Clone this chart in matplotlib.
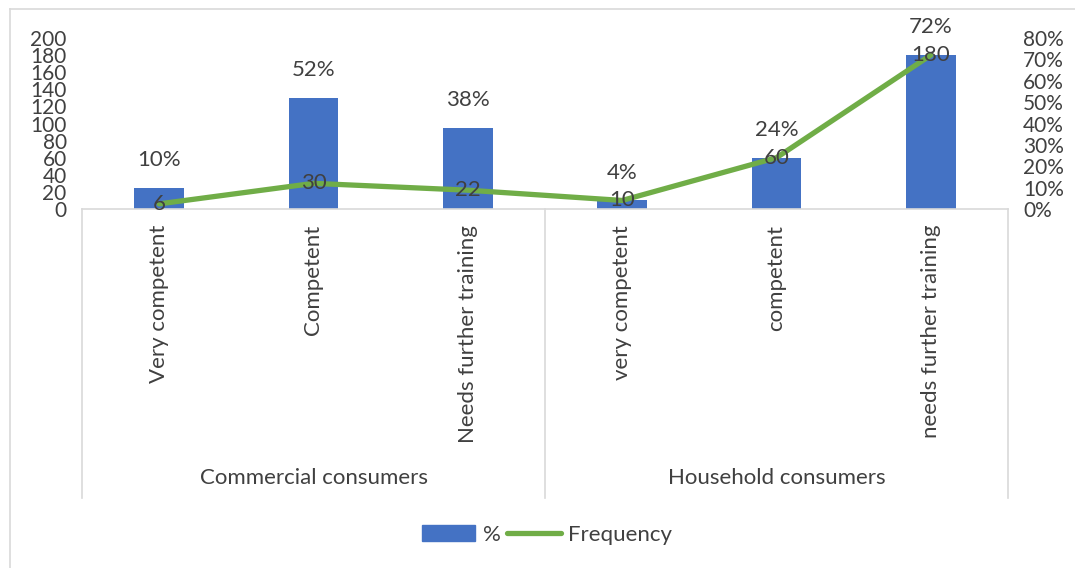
import matplotlib
matplotlib.use("Agg")
import matplotlib.pyplot as plt
from matplotlib.patches import Patch
from matplotlib.lines import Line2D
import matplotlib.transforms as mtransforms

plt.rcParams['font.family'] = ['Lato', 'DejaVu Sans']

# Data
groups = ["Commercial consumers", "Household consumers"]
categories = ["Very competent", "Competent", "Needs further training",
              "very competent", "competent", "needs further training"]
percent = [10, 52, 38, 4, 24, 72]
frequency = [6, 30, 22, 10, 60, 180]
left_ticks = list(range(0, 201, 20))
right_ticks = list(range(0, 81, 10))

TEXT = "#404040"
BAR = "#4472C4"
LINE = "#70AD47"
GRID = "#D9D9D9"
FS = 16
TFS = 15

W, H = 1075, 568
fig = plt.figure(figsize=(W / 100, H / 100), dpi=100)

# chart border (top and left edges)
fig.add_artist(Line2D([10 / W, 10 / W], [0, 1 - 9 / H], color=GRID, lw=1.2))
fig.add_artist(Line2D([10 / W, 1], [1 - 9 / H, 1 - 9 / H], color=GRID, lw=1.2))

x0, x1, ytop, ybot = 82, 1008, 38, 209
ax = fig.add_axes([x0 / W, 1 - ybot / H, (x1 - x0) / W, (ybot - ytop) / H])
x = list(range(len(categories)))

# percentage bars (right-hand axis)
ax.bar(x, percent, width=0.32, color=BAR, zorder=2)
ax.set_ylim(0, 80)
ax.set_xlim(-0.5, len(categories) - 0.5)
for s in ["top", "left", "right"]:
    ax.spines[s].set_visible(False)
ax.spines["bottom"].set_color(GRID)
ax.spines["bottom"].set_linewidth(1.2)
for xi, p in zip(x, percent):
    ax.annotate(f"{p}%", (xi, p), xytext=(0, 20), textcoords="offset points",
                ha="center", va="center", fontsize=FS, color=TEXT)

# frequency line (left-hand axis)
ax2 = ax.twinx()
ax2.plot(x, frequency, color=LINE, lw=3.8, solid_capstyle="round", zorder=3)
ax2.set_ylim(0, 200)
for s in ["top", "left", "right", "bottom"]:
    ax2.spines[s].set_visible(False)
for xi, f in zip(x, frequency):
    ax2.text(xi, f, str(f), ha="center", va="center", fontsize=FS, color=TEXT, zorder=4)

# tick placement: percentages on the right, counts on the left
ax.yaxis.tick_right()
ax.set_yticks(right_ticks)
ax.set_yticklabels([f"{t}%" for t in right_ticks])
ax.tick_params(axis='y', left=False, labelleft=False, right=False, labelright=True,
               length=0, labelsize=TFS, labelcolor=TEXT, pad=11)
ax.tick_params(axis='x', length=0, labelbottom=False)
ax2.yaxis.tick_left()
ax2.set_yticks(left_ticks)
ax2.tick_params(axis='y', left=False, labelleft=True, right=False, labelright=False,
                length=0, labelsize=TFS, labelcolor=TEXT, pad=11)

# multi-level category axis
trans = mtransforms.blended_transform_factory(ax.transData, ax.transAxes)
axh = (ybot - ytop)
y_lab = -(225 - ybot) / axh
y_grp = -(478 - ybot) / axh
y_end = -(498 - ybot) / axh
for xi, c in zip(x, categories):
    ax.text(xi, y_lab, c, rotation=90, ha="center", va="top", fontsize=FS,
            color=TEXT, transform=trans)
for sep in [-0.5, 2.5, 5.5]:
    ax.add_artist(Line2D([sep, sep], [0, y_end], transform=trans, color=GRID,
                         lw=1.2, clip_on=False))
for gi, g in enumerate(groups):
    ax.text(gi * 3 + 1, y_grp, g, ha="center", va="center", fontsize=FS,
            color=TEXT, transform=trans)

# legend
handles = [Patch(facecolor=BAR, edgecolor=BAR),
           Line2D([0], [0], color=LINE, lw=3.8, solid_capstyle="round")]
fig.legend(handles, ["%", "Frequency"], loc="center", ncol=2,
           bbox_to_anchor=(547 / W, 1 - 535 / H), frameon=False,
           fontsize=FS, labelcolor=TEXT, handlelength=2.4, handleheight=0.7,
           handletextpad=0.35, columnspacing=0.3)

fig.savefig("out.png", dpi=100, facecolor="white")
